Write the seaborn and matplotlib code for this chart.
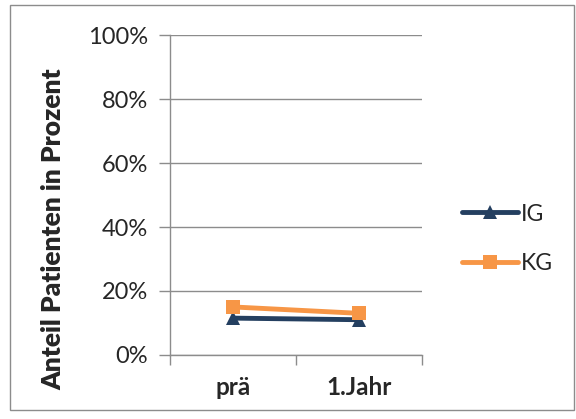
import pandas as pd
import seaborn as sns
import matplotlib.pyplot as plt
from matplotlib.patches import Rectangle
from matplotlib.ticker import FixedLocator, PercentFormatter

categories = ["prä", "1.Jahr"]
ig_values = [11.5, 11.0]
kg_values = [15.0, 13.0]
groups = ["IG", "KG"]

df = pd.DataFrame({
    "x": [0, 1, 0, 1],
    "Anteil": ig_values + kg_values,
    "Gruppe": ["IG"] * 2 + ["KG"] * 2,
})

sns.set_theme(style="white")
plt.rcParams["font.family"] = ["Lato", "DejaVu Sans"]

fig = plt.figure(figsize=(5.76, 4.19), dpi=100)
ax = fig.add_axes([0.295, 0.153, 0.438, 0.763])

palette = {"IG": "#243F60", "KG": "#F79646"}
sns.lineplot(data=df, x="x", y="Anteil", hue="Gruppe", style="Gruppe",
             markers={"IG": "^", "KG": "s"}, dashes=False, palette=palette,
             linewidth=3.5, markersize=10, markeredgewidth=0, ax=ax)

ax.set_xlim(-0.5, 1.5)
ax.set_ylim(0, 100)
ax.yaxis.set_major_locator(FixedLocator([0, 20, 40, 60, 80, 100]))
ax.yaxis.set_major_formatter(PercentFormatter(decimals=0))
ax.grid(axis="y", color="#8C8C8C", linewidth=1)
ax.set_axisbelow(True)

ax.xaxis.set_major_locator(FixedLocator([-0.5, 0.5, 1.5]))
ax.xaxis.set_major_formatter(plt.NullFormatter())
ax.xaxis.set_minor_locator(FixedLocator([0, 1]))
ax.set_xticklabels(categories, minor=True, fontweight="bold", fontsize=17.5)
ax.tick_params(axis="x", which="major", length=7, color="#8C8C8C", width=1, direction="out", bottom=True)
ax.tick_params(axis="x", which="minor", length=0, pad=15)
ax.tick_params(axis="y", length=8, color="#8C8C8C", width=1, direction="out", left=True, labelsize=17, pad=8)

for s in ["top", "right"]:
    ax.spines[s].set_visible(False)
for s in ["left", "bottom"]:
    ax.spines[s].set_color("#8C8C8C")
    ax.spines[s].set_linewidth(1)

ax.set_xlabel("")
ax.set_ylabel("Anteil Patienten in Prozent", fontweight=800, fontsize=19)
ax.yaxis.set_label_coords(-0.415, 0.394)

leg = ax.legend(loc="center left", bbox_to_anchor=(0.802, 0.43), bbox_transform=fig.transFigure,
                frameon=False, fontsize=16.5, handlelength=2.45, handletextpad=0.1,
                labelspacing=1.25, borderpad=0, borderaxespad=0)

fig.patches.append(Rectangle((0.017, 0.022), 0.979, 0.966, transform=fig.transFigure,
                             fill=False, edgecolor="#8C8C8C", linewidth=1))

fig.savefig("out.png", dpi=100)
